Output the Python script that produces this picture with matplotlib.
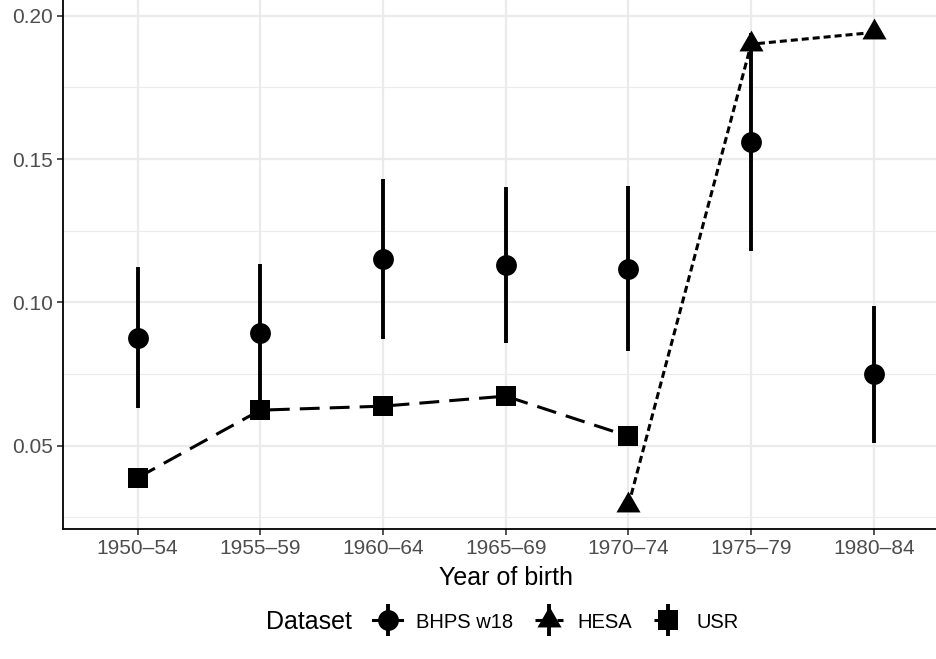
import numpy as np
import matplotlib
matplotlib.use("Agg")
import matplotlib.pyplot as plt
from matplotlib.lines import Line2D
from matplotlib.path import Path
from matplotlib.legend_handler import HandlerTuple

plt.rcParams['font.family'] = ['Liberation Sans', 'DejaVu Sans']

cohorts = ["1950\u201354", "1955\u201359", "1960\u201364", "1965\u201369",
           "1970\u201374", "1975\u201379", "1980\u201384"]

# BHPS w18 estimates with interval
bhps_est = [0.0876, 0.0894, 0.1153, 0.1130, 0.1116, 0.1560, 0.0750]
bhps_lo = [0.0631, 0.0653, 0.0874, 0.0857, 0.0829, 0.1180, 0.0510]
bhps_hi = [0.1125, 0.1135, 0.1430, 0.1402, 0.1405, 0.1940, 0.0986]

# USR, cohorts 1950-54 .. 1970-74
usr_idx = [0, 1, 2, 3, 4]
usr_val = [0.0388, 0.0624, 0.0638, 0.0673, 0.0533]

# HESA, cohorts 1970-74 .. 1980-84
hesa_idx = [4, 5, 6]
hesa_val = [0.0292, 0.1901, 0.1942]

W, H = 937, 659
fig = plt.figure(figsize=(W / 100, H / 100), dpi=100)

# panel in pixel terms (the reference is cropped at top and right)
left_px, right_px, bot_px, top_px = 62.7, 948.7, 529.3, -4.0
ax = fig.add_axes([left_px / W, 1 - bot_px / H,
                   (right_px - left_px) / W, (bot_px - top_px) / H])

lw = 2.2
grid_c = '#EBEBEB'
usr_dash = (6.5, 3.3)
hesa_dash = (2.3, 1.3)

# R style up-triangle, centred on its centroid
tri = Path([(0, 1), (np.sqrt(3) / 2, -0.5), (-np.sqrt(3) / 2, -0.5), (0, 1)],
           [Path.MOVETO, Path.LINETO, Path.LINETO, Path.CLOSEPOLY])

x = np.arange(len(cohorts))

ax.plot(usr_idx, usr_val, color='black', lw=lw, dashes=usr_dash,
        dash_capstyle='butt', zorder=3)
ax.plot(hesa_idx, hesa_val, color='black', lw=lw, dashes=hesa_dash,
        dash_capstyle='butt', zorder=3)

ax.vlines(x, bhps_lo, bhps_hi, color='black', lw=2.8, zorder=4)

ax.plot(x, bhps_est, 'o', color='black', ms=15, mew=0, zorder=5)
ax.plot(usr_idx, usr_val, 's', color='black', ms=14, mew=0, zorder=5)
ax.plot(hesa_idx, hesa_val, marker=tri, ls='none', color='black', ms=20,
        mew=0, zorder=5)

ax.set_xlim(-0.61, 6.61)
ylo = 0.05 - (bot_px - 445.7) / 143.3 * 0.05
yhi = 0.05 + (445.7 - top_px) / 143.3 * 0.05
ax.set_ylim(ylo, yhi)

ax.set_xticks(x)
ax.set_xticklabels(cohorts)
ax.set_yticks([0.05, 0.10, 0.15, 0.20])
ax.set_yticklabels(["0.05", "0.10", "0.15", "0.20"])
ax.set_yticks([0.025, 0.075, 0.125, 0.175], minor=True)

ax.grid(True, which='major', color=grid_c, lw=1.6, zorder=0)
ax.grid(True, which='minor', axis='y', color=grid_c, lw=0.8, zorder=0)
ax.set_axisbelow(True)

for s in ['top', 'right']:
    ax.spines[s].set_visible(False)
for s in ['left', 'bottom']:
    ax.spines[s].set_linewidth(1.3)
    ax.spines[s].set_color('black')

ax.tick_params(axis='both', which='major', length=4, width=1.2, color='#333333',
               labelsize=15, labelcolor='#4D4D4D', pad=3)
ax.tick_params(axis='y', which='minor', length=0)
ax.tick_params(axis='x', which='minor', length=0)

ax.set_xlabel("Year of birth", fontsize=18, labelpad=6)

# legend at the bottom, title to the left
def key(marker, ms, dashes=None):
    vbar = Line2D([], [], marker='|', ms=23, mew=2.8, color='black', ls='none')
    if dashes is None:
        hl = Line2D([], [], color='black', lw=lw, ls='-')
    else:
        hl = Line2D([], [], color='black', lw=lw, dashes=dashes)
    pt = Line2D([], [], marker=marker, ms=ms, color='black', mew=0, ls='none')
    return (hl, vbar, pt)

handles = [key('o', 15), key(tri, 20, hesa_dash), key('s', 14, usr_dash)]
labels = ["BHPS w18", "HESA", "USR"]
leg = fig.legend(handles, labels, loc='center', bbox_to_anchor=(556 / W, 1 - 622 / H),
                 ncol=3, frameon=False, fontsize=14.5, handlelength=1.4,
                 handletextpad=0.7, columnspacing=1.1,
                 handler_map={tuple: HandlerTuple(ndivide=1, pad=0)})
fig.text(309 / W, 1 - 622 / H, "Dataset", fontsize=18, ha='center', va='center')

fig.savefig("out.png", dpi=100)
